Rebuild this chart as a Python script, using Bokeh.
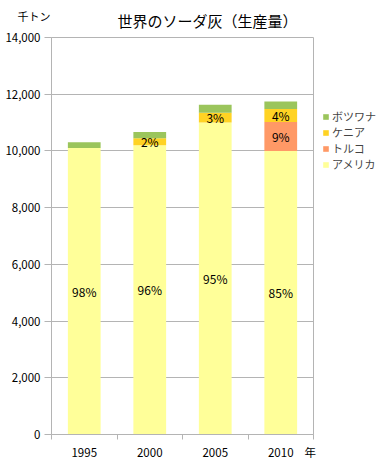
from bokeh.plotting import figure
from bokeh.models import (ColumnDataSource, Range1d, FixedTicker, NumeralTickFormatter,
                          Legend, LegendItem, Title)
from bokeh.core.properties import value
from bokeh.embed import file_html
from bokeh.resources import INLINE

years = ["1995", "2000", "2005", "2010"]
series_names = ["アメリカ", "トルコ", "ケニア", "ボツワナ"]  # bottom to top
usa = [10100, 10200, 11000, 10000]
turkey = [0, 0, 0, 1020]
kenya = [0, 250, 350, 460]
botswana = [210, 220, 280, 260]
colors = ["#FFFF99", "#FF9966", "#FFD324", "#9BC55C"]
y_ticks = [0, 2000, 4000, 6000, 8000, 10000, 12000, 14000]
title_text = "世界のソーダ灰（生産量）"
unit_y = "千トン"
unit_x = "年"

JP = "Noto Sans CJK JP"
GRAY = "#B4B4B4"

xpos = [i + 0.5 for i in range(len(years))]
data = {"x": xpos, "アメリカ": usa, "トルコ": turkey, "ケニア": kenya, "ボツワナ": botswana}
src = ColumnDataSource(data)

p = figure(frame_width=262, frame_height=397, output_backend="svg", toolbar_location=None,
           x_range=Range1d(0, len(years)), y_range=Range1d(0, 14000),
           min_border_left=51, min_border_right=70, min_border_top=36, min_border_bottom=30)
p.background_fill_color = "white"
p.border_fill_color = "white"
p.outline_line_color = GRAY

renderers = p.vbar_stack(series_names, x="x", width=0.5, source=src,
                         fill_color=colors, line_color=None)

# percentage labels
totals = [a + b + c + d for a, b, c, d in zip(usa, turkey, kenya, botswana)]
tx, ty, tt = [], [], []
for i in range(len(years)):
    base = 0
    for name, vals in (("アメリカ", usa), ("トルコ", turkey), ("ケニア", kenya), ("ボツワナ", botswana)):
        v = vals[i]
        if v > 0 and name != "ボツワナ":
            tx.append(xpos[i]); ty.append(base + v / 2)
            tt.append(f"{round(100 * v / totals[i])}%")
        base += v
p.text(x=tx, y=ty, text=tt, text_align="center", text_baseline="middle",
       text_font=value(JP), text_font_size="12px", text_color="black")

# axes
p.xgrid.visible = False
p.ygrid.grid_line_color = GRAY
p.ygrid.ticker = FixedTicker(ticks=y_ticks)

p.yaxis.ticker = FixedTicker(ticks=y_ticks)
p.yaxis.formatter = NumeralTickFormatter(format="0,0")
p.yaxis.axis_line_color = GRAY
p.yaxis.major_tick_line_color = GRAY
p.yaxis.major_tick_in = 0
p.yaxis.major_tick_out = 7
p.yaxis.minor_tick_line_color = None
p.yaxis.major_label_standoff = 4
p.yaxis.major_label_text_font = JP
p.yaxis.major_label_text_font_size = "11.5px"
p.yaxis.major_label_text_color = "black"

unit_x_pos = len(years) - 0.05
p.xaxis.ticker = FixedTicker(ticks=xpos + [unit_x_pos], minor_ticks=list(range(len(years) + 1)))
overrides = {x: y for x, y in zip(xpos, years)}
overrides[unit_x_pos] = unit_x
p.xaxis.major_label_overrides = overrides
p.xaxis.axis_line_color = GRAY
p.xaxis.major_tick_line_color = None
p.xaxis.major_tick_in = 0
p.xaxis.major_tick_out = 5
p.xaxis.minor_tick_line_color = GRAY
p.xaxis.minor_tick_in = 0
p.xaxis.minor_tick_out = 5
p.xaxis.major_label_standoff = 4
p.xaxis.major_label_text_font = JP
p.xaxis.major_label_text_font_size = "11.5px"
p.xaxis.major_label_text_color = "black"

# y unit (outer row) and chart title (row next to the frame)
p.title.text = unit_y
p.title.align = "left"
p.title.offset = -34
p.title.text_font = JP
p.title.text_font_size = "11px"
p.title.text_font_style = "normal"
p.title.text_color = "black"
p.title.standoff = -47

p.add_layout(Title(text=title_text, align="left", offset=66, text_font=JP, text_font_size="15px",
                   text_font_style="normal", text_color="black", standoff=14), "above")

# legend (top item = top of stack)
items = [LegendItem(label=n, renderers=[r]) for n, r in zip(series_names, renderers)][::-1]
legend = Legend(items=items, location=(9, 262), orientation="vertical",
                glyph_width=7, glyph_height=7, label_height=12, spacing=0,
                label_text_line_height=1.0,
                label_standoff=3, padding=0, margin=0,
                label_text_font=JP, label_text_font_size="11px",
                border_line_color=None, background_fill_alpha=0)
p.add_layout(legend, "right")

open("out.html", "w").write(file_html(p, INLINE))
